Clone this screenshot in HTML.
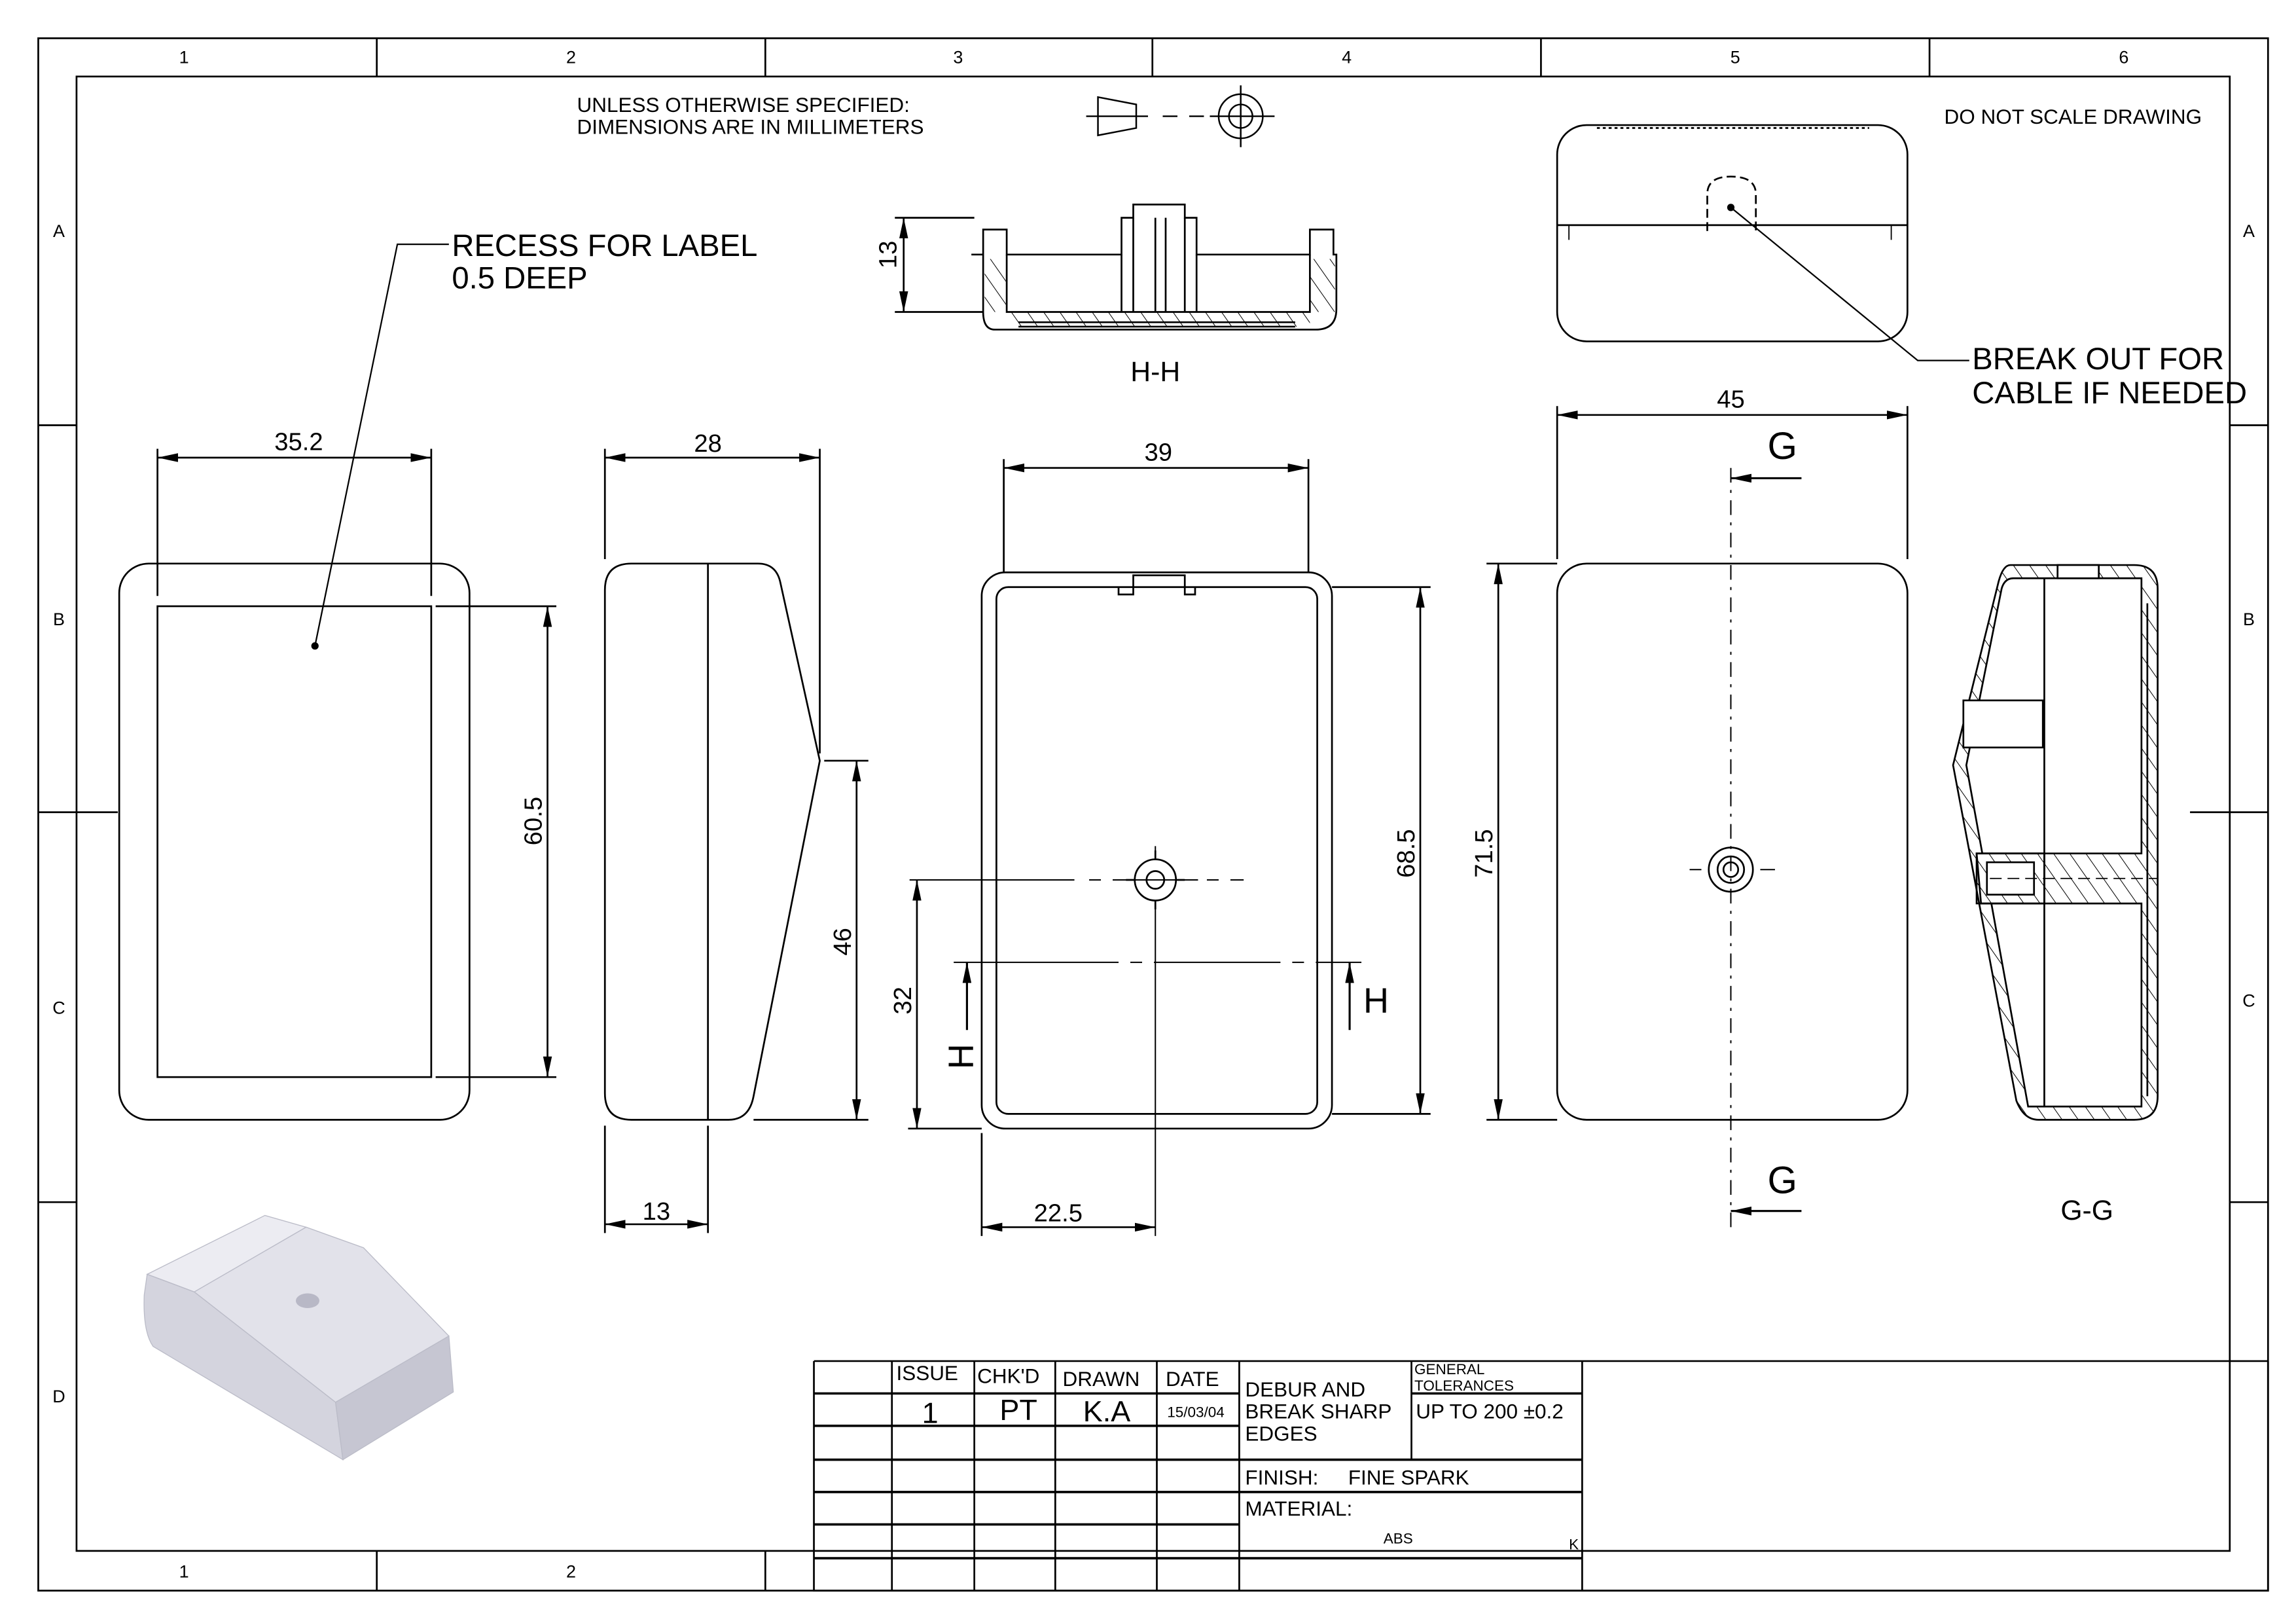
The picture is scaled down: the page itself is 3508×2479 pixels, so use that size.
<!DOCTYPE html>
<html><head><meta charset="utf-8"><style>
html,body{margin:0;padding:0;background:#fff}
svg{display:block}
text{font-family:"Liberation Sans",sans-serif;fill:#000}
</style></head><body>
<svg width="3508" height="2479" viewBox="0 0 1560 1103" preserveAspectRatio="none" xmlns="http://www.w3.org/2000/svg">
<defs>
<marker id="a" viewBox="0 0 14 6" refX="14" refY="3" markerWidth="14" markerHeight="6" markerUnits="userSpaceOnUse" orient="auto-start-reverse"><path d="M0,0L14,3L0,6z" fill="#000"/></marker>
<pattern id="h" width="9" height="9" patternUnits="userSpaceOnUse" patternTransform="rotate(-35)"><line x1="0" y1="0" x2="0" y2="9" stroke="#000" stroke-width="0.9"/></pattern>
</defs>
<g fill="none" stroke="#000" stroke-width="1.2">
<rect x="26" y="26" width="1515" height="1055"/>
<rect x="52" y="52" width="1463" height="1002"/>
<path d="M256,26V52M520,26V52M783,26V52M1047,26V52M1311,26V52M256,1054V1081M520,1054V1081"/>
<path d="M26,289H52M26,552H80M26,817H52M1515,289H1541M1488,552H1541M1515,817H1541"/>
</g>
<g font-size="12" text-anchor="middle">
<text x="125" y="43">1</text><text x="388" y="43">2</text><text x="651" y="43">3</text><text x="915" y="43">4</text><text x="1179" y="43">5</text><text x="1443" y="43">6</text>
<text x="125" y="1072">1</text><text x="388" y="1072">2</text>
<text x="40" y="161">A</text><text x="40" y="425">B</text><text x="40" y="689">C</text><text x="40" y="953">D</text>
<text x="1528" y="161">A</text><text x="1528" y="425">B</text><text x="1528" y="684">C</text>
</g>
<text x="392" y="76" font-size="14">UNLESS OTHERWISE SPECIFIED:</text>
<text x="392" y="91" font-size="14">DIMENSIONS ARE IN MILLIMETERS</text>
<text x="1321" y="84" font-size="14">DO NOT SCALE DRAWING</text>
<g fill="none" stroke="#000" stroke-width="1.1">
<path d="M746,66L772,71V87L746,92Z"/><path d="M738,79H780" />
<path d="M790,79H800M808,79H818M822,79H866"/>
<circle cx="843" cy="79" r="15"/><circle cx="843" cy="79" r="8"/><path d="M843,58V100"/>
</g>
<g fill="none" stroke="#000" stroke-width="1.2">
<rect x="81" y="383" width="238" height="378" rx="20"/>
<rect x="107" y="412" width="186" height="320"/>
<path d="M107,305V405M293,305V405"/>
<path d="M107,311H293" marker-start="url(#a)" marker-end="url(#a)"/>
<path d="M296,412H378M296,732H378"/>
<path d="M372,412V732" marker-start="url(#a)" marker-end="url(#a)"/>
<path d="M214,439L270,166H305" stroke-width="1"/>
<path d="M429,383H515Q527,383 530,395L557,517L512,745Q509,761 495,761H429Q411,761 411,743V401Q411,383 429,383Z"/>
<path d="M481,383V761"/>
<path d="M411,305V380M557,305V512"/>
<path d="M411,311H557" marker-start="url(#a)" marker-end="url(#a)"/>
<path d="M560,517H590M512,761H590"/>
<path d="M582,517V761" marker-start="url(#a)" marker-end="url(#a)"/>
<path d="M411,765V838M481,765V838"/>
<path d="M411,832H481" marker-start="url(#a)" marker-end="url(#a)"/>
<rect x="667" y="389" width="238" height="378" rx="16"/>
<rect x="677" y="399" width="218" height="358" rx="8"/>
<path d="M760,399V404H770V391H805V404H812V399"/>
<circle cx="785" cy="598" r="14"/><circle cx="785" cy="598" r="6"/>
<path d="M785,578V584M785,612V618M765,598H771M799,598H805"/>
<path d="M618,598H730M740,598H748M756,598H814M820,598H828M836,598H845" stroke-width="0.9"/>
<path d="M785,575V584M785,612V840" stroke-width="0.9"/>
<path d="M682,312V389M889,312V389"/>
<path d="M682,318H889" marker-start="url(#a)" marker-end="url(#a)"/>
<path d="M905,399H972M905,757H972"/>
<path d="M965,399V757" marker-start="url(#a)" marker-end="url(#a)"/>
<path d="M617,767H667"/>
<path d="M623,598V767" marker-start="url(#a)" marker-end="url(#a)"/>
<path d="M667,770V840"/>
<path d="M667,834H785" marker-start="url(#a)" marker-end="url(#a)"/>
<path d="M648,654H760M768,654H776M784,654H870M878,654H886M894,654H925" stroke-width="0.9"/>
<path d="M657,700V654" marker-end="url(#a)" stroke-width="1.4"/>
<path d="M917,700V654" marker-end="url(#a)" stroke-width="1.4"/>
<path d="M660,173H668V156H684V173H762V148H770V139H805V148H813V173H890V156H906V173H908V210Q908,224 894,224H676Q668,224 668,212V173"/>
<path d="M684,173V212H890V173"/>
<rect x="669" y="176" width="15" height="36" fill="url(#h)" stroke="none"/>
<rect x="890" y="176" width="17" height="36" fill="url(#h)" stroke="none"/>
<rect x="684" y="212" width="206" height="10" fill="url(#h)" stroke="none"/>
<path d="M692,222H880M692,219H880"/>
<path d="M770,148V212M805,148V212M785,148V212M792,148V212M762,173V212M813,173V212"/>
<path d="M608,148H662M608,212H668"/>
<path d="M614,148V212" marker-start="url(#a)" marker-end="url(#a)"/>
<rect x="1058" y="85" width="238" height="147" rx="20"/>
<path d="M1058,153H1296"/>
<path d="M1085,87H1270" stroke-dasharray="2 2"/>
<path d="M1160,157V132Q1160,120 1176,120Q1193,120 1193,132V157" stroke-dasharray="6 3"/>
<path d="M1176,141L1303,245H1338" stroke-width="1"/>
<path d="M1066,153V163M1285,153V163" stroke-width="0.8"/>
<rect x="1058" y="383" width="238" height="378" rx="20"/>
<circle cx="1176" cy="591" r="15"/><circle cx="1176" cy="591" r="9"/><circle cx="1176" cy="591" r="5"/>
<path d="M1148,591H1156M1196,591H1206M1176,318V835" stroke-dasharray="10 5 2 5" stroke-width="0.9"/>
<path d="M1058,276V380M1296,276V380"/>
<path d="M1058,282H1296" marker-start="url(#a)" marker-end="url(#a)"/>
<path d="M1010,383H1058M1010,761H1058"/>
<path d="M1018,383V761" marker-start="url(#a)" marker-end="url(#a)"/>
<path d="M1224,325H1176" marker-end="url(#a)" stroke-width="1.4"/>
<path d="M1224,823H1176" marker-end="url(#a)" stroke-width="1.4"/>
<path d="M1366,384H1450Q1466,384 1466,400V745Q1466,761 1450,761H1385Q1375,761 1370,748L1327,520L1358,395Q1361,384 1366,384Z" fill="url(#h)"/>
<path d="M1368,393H1455V580H1389V614H1455V752H1378L1336,520L1360,400Q1362,393 1368,393Z" fill="#fff"/>
<path d="M1389,393V580M1389,614V752M1343,580H1389V614H1346Z" fill="#fff"/>
<rect x="1343" y="580" width="46" height="34" fill="url(#h)"/>
<rect x="1350" y="586" width="32" height="22" fill="#fff"/>
<path d="M1352,597H1466" stroke-dasharray="8 4" stroke-width="0.8"/>
<rect x="1334" y="476" width="54" height="32" fill="#fff"/>
<rect x="1398" y="384" width="28" height="9" fill="#fff"/>
<path d="M1459,410V745"/>
<path d="M553,925H1541M553,925V1081H1075V925M606,925V1081M662,925V1081M717,925V1081M786,925V1081M842,925V1081M959,925V992"/>
<path d="M553,947H842M959,947H1075M553,969H842M553,1036H842M842,1014H1075M553,992H1075M553,1014H842M553,1059H1075" stroke-width="1.6"/>
<path d="M1075,1081H1541V925"/>
</g>
<g font-size="17" text-anchor="middle">
<text x="203" y="306">35.2</text>
<text x="481" y="307">28</text>
<text x="787" y="313">39</text>
<text x="1176" y="277">45</text>
<text x="446" y="829">13</text>
<text x="719" y="830">22.5</text>
<text transform="translate(368,558) rotate(-90)">60.5</text>
<text transform="translate(578,640) rotate(-90)">46</text>
<text transform="translate(619,680) rotate(-90)">32</text>
<text transform="translate(961,580) rotate(-90)">68.5</text>
<text transform="translate(1014,580) rotate(-90)">71.5</text>
<text transform="translate(609,173) rotate(-90)">13</text>
<text x="785" y="259" font-size="19">H-H</text>
<text x="1418" y="829" font-size="19">G-G</text>
<text x="1211" y="312" font-size="26">G</text>
<text x="1211" y="811" font-size="26">G</text>
<text x="935" y="688" font-size="24">H</text>
<text transform="translate(661,718) rotate(-90)" font-size="24">H</text>
</g>
<g font-size="21">
<text x="307" y="174">RECESS FOR LABEL</text>
<text x="307" y="196">0.5 DEEP</text>
<text x="1340" y="251">BREAK OUT FOR</text>
<text x="1340" y="274">CABLE IF NEEDED</text>
</g>
<circle cx="214" cy="439" r="2.5" fill="#000"/>
<circle cx="1176" cy="141" r="2.5" fill="#000"/>
<g stroke="#bbbcc8" stroke-width="0.6">
<path d="M100,866L180,826L208,834L132,878Z" fill="#ececf2"/>
<path d="M132,878L208,834L247,848L305,908L228,953Z" fill="#e2e2ea"/>
<path d="M100,866L132,878L228,953L233,992L104,915Q97,905 98,880Z" fill="#d4d4de"/>
<path d="M228,953L305,908L308,946L233,992Z" fill="#c6c6d2"/>
</g>
<ellipse cx="209" cy="884" rx="8" ry="5" fill="#b8b8c6"/>
<g font-size="14">
<text x="609" y="938">ISSUE</text><text x="664" y="940">CHK'D</text><text x="722" y="942">DRAWN</text><text x="792" y="942">DATE</text>
<text x="846" y="949">DEBUR AND</text><text x="846" y="964">BREAK SHARP</text><text x="846" y="979">EDGES</text>
<text x="962" y="964">UP TO 200 ±0.2</text>
<text x="846" y="1009">FINISH:</text><text x="916" y="1009">FINE SPARK</text>
<text x="846" y="1030">MATERIAL:</text>
</g>
<g font-size="10"><text x="961" y="934">GENERAL</text><text x="961" y="945">TOLERANCES</text><text x="793" y="963">15/03/04</text><text x="940" y="1049">ABS</text><text x="1066" y="1053">K</text></g>
<g font-size="20" text-anchor="middle"><text x="632" y="967">1</text><text x="692" y="965">PT</text><text x="752" y="966">K.A</text></g>
</svg>
</body></html>
